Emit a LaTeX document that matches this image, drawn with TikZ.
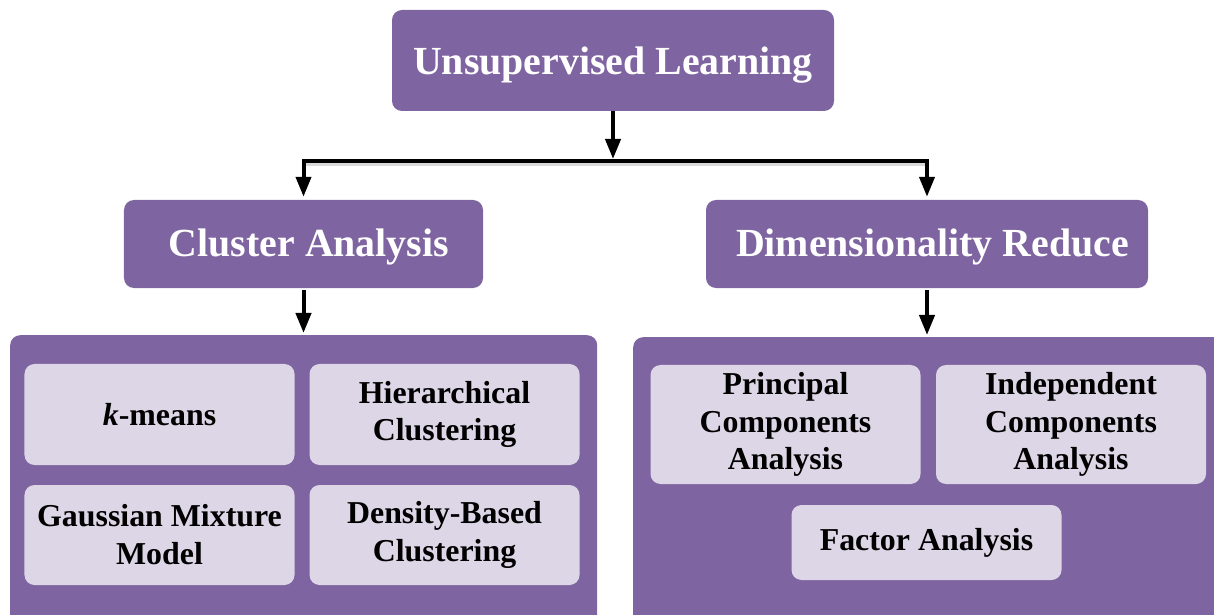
\documentclass[tikz,border=0pt]{standalone}
\usepackage{fontspec}
\setmainfont{Liberation Serif}
\usetikzlibrary{arrows.meta}
\definecolor{purp}{RGB}{126,100,160}
\definecolor{lilac}{RGB}{221,214,230}
\tikzset{
  headbox/.style={draw=none, fill=purp, rounded corners=10bp, text=white,
    font=\fontsize{40}{48}\selectfont\bfseries, inner sep=0pt, align=center,
    text depth=9bp},
  container/.style={draw=none, fill=purp, rounded corners=10bp, inner sep=0pt, anchor=north west},
  itembox/.style={draw=none, fill=lilac, rounded corners=10bp, text=black,
    font=\fontsize{32}{38}\selectfont\bfseries, inner sep=0pt, align=center,
    minimum width=270bp},
  conn/.style={line width=4bp, black},
  arr/.style={conn, -{Triangle[length=20bp,width=15bp]}},
  shade/.style={line width=6bp, black!25, opacity=0.6}
}
\begin{document}
\begin{tikzpicture}[x=1bp,y=-1bp]
\useasboundingbox (0,0) rectangle (1214,615);
\clip (0,0) rectangle (1214,615);
% main boxes
\node[headbox, text height=37bp, minimum width=442bp, minimum height=101bp] (top) at (613,60.5) {Unsupervised Learning};
\node[headbox, text height=35bp, minimum width=359bp, minimum height=88bp] (ca) at (303.5,244) {\hspace*{11bp}Cluster Analysis};
\node[headbox, text height=35bp, minimum width=442bp, minimum height=88bp] (dr) at (927,244) {\hspace*{11bp}Dimensionality Reduce};
% containers
\node[container, minimum width=587bp, minimum height=295bp] (lc) at (10,335) {};
\node[container, minimum width=600bp, minimum height=295bp] (rc) at (633,337) {};
% inner items left
\node[itembox, minimum height=101bp] (km) at (159.5,414.5) {\textit{k}-means};
\node[itembox, minimum height=101bp] (hc) at (444.5,414.5) {Hierarchical\\Clustering};
\node[itembox, minimum height=100bp] (gm) at (159.5,535) {Gaussian Mixture\\Model};
\node[itembox, minimum height=100bp] (db) at (444.5,535) {Density-Based\\Clustering};
% inner items right
\node[itembox, minimum height=119bp] (pca) at (785.5,424.5) {Principal\\Components\\Analysis};
\node[itembox, minimum height=119bp] (ica) at (1071,424.5) {Independent\\Components\\Analysis};
\node[itembox, minimum height=75bp] (fa) at (926.5,542.5) {Factor Analysis};
% connectors
\coordinate (hub) at (613,161);
\coordinate (hl) at (303.5,161);
\coordinate (hr) at (927,161);
\draw[shade] ([xshift=2bp,yshift=-2bp]hl) -- ([xshift=2bp,yshift=-2bp]hr);
\draw[arr] (top.south) -- ([yshift=2bp]hub);
\draw[conn, line cap=rect] (hl) -- (hr);
\draw[arr, shorten >=3bp] (hl) -- (ca.north);
\draw[arr, shorten >=3bp] (hr) -- (dr.north);
\draw[arr, shorten <=2bp, shorten >=2bp] (ca.south) -- (ca.south |- lc.north);
\draw[arr, shorten <=2bp, shorten >=2bp] (dr.south) -- (dr.south |- rc.north);
\end{tikzpicture}
\end{document}
